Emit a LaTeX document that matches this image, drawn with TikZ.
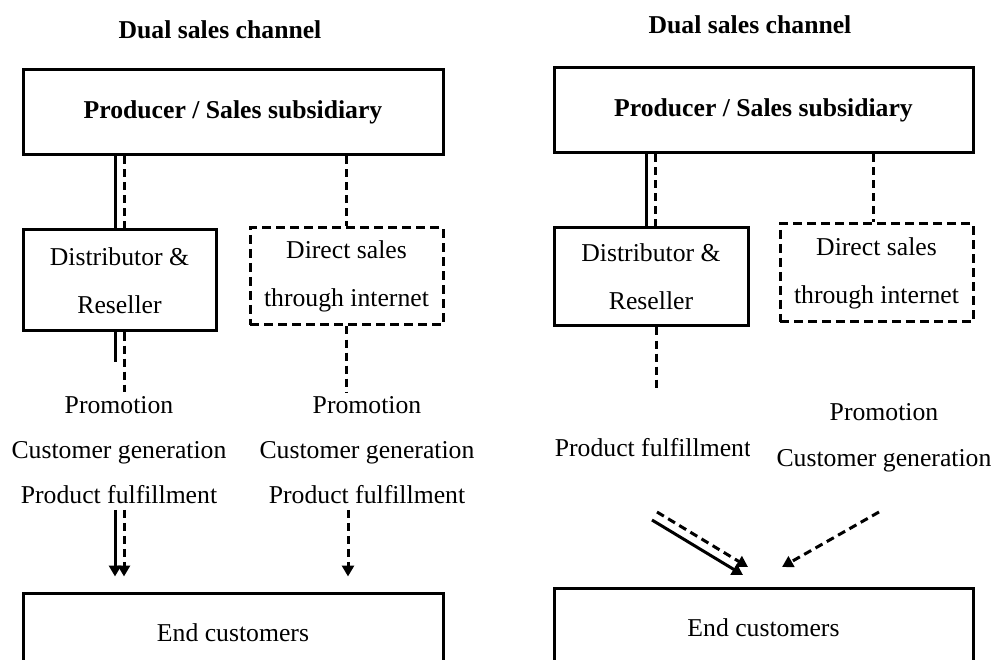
\documentclass[tikz,border=0pt]{standalone}
\usepackage{fontspec}
\setmainfont{Liberation Serif}
\usetikzlibrary{calc,arrows.meta}

\begin{document}
\begin{tikzpicture}[x=1pt,y=-1pt,
    txt/.style={font=\fontsize{25.7}{45}\selectfont,align=center,inner sep=0pt},
    box/.style={draw,line width=3pt,align=center,
      font=\fontsize{25.7}{48}\selectfont},
    dbox/.style={box,dash pattern=on 9pt off 5pt},
    ln/.style={line width=3pt},
    dln/.style={ln,dash pattern=on 8pt off 5pt},
    tip/.style={-{Triangle[length=11pt,width=12pt]}}]
  \clip (0,0) rectangle (996,660);

  % left channel
  \node[txt,font=\fontsize{25.7}{30}\selectfont\bfseries] (titleL) at (220,30) {Dual sales channel};
  \node[box,font=\fontsize{25.7}{30}\selectfont\bfseries,minimum width=420pt,minimum height=85pt]
    (prodL) at (233,112.5) {Producer / Sales subsidiary};
  \node[box,minimum width=193pt,minimum height=101pt] (distL) at (119.5,280.5)
    {Distributor \&\\Reseller};
  \node[dbox,minimum width=193pt,minimum height=97pt] (directL) at (346.5,276.5)
    {Direct sales\\through internet};
  \node[txt] (tasksL) at (119,450) {Promotion\\Customer generation\\Product fulfillment};
  \node[txt] (tasksM) at (367,450) {Promotion\\Customer generation\\Product fulfillment};
  \node[box,minimum width=420pt,minimum height=80pt] (endL) at (233,633) {End customers};

  \draw[ln] ($(prodL.south -| distL.north)+(-4.5,0)$) -- ($(distL.north)+(-4.5,0)$);
  \draw[dln] ($(prodL.south -| distL.north)+(4.5,0)$) -- ($(distL.north)+(4.5,0)$);
  \draw[dln] (prodL.south -| directL.north) -- (directL.north);
  \draw[ln] ($(distL.south)+(-4.5,0)$) -- ++(0,29);
  \draw[dln] ($(distL.south)+(4.5,0)$) -- ($(tasksL.north -| distL.south)+(4.5,-4)$);
  \draw[dln] (directL.south) -- ($(tasksM.north -| directL.south)+(0,-4)$);
  \draw[ln,tip,shorten >=15pt] ($(tasksL.south -| distL.south)+(-4.5,6)$) -- ($(endL.north -| distL.south)+(-4.5,0)$);
  \draw[dln,tip,shorten >=15pt] ($(tasksL.south -| distL.south)+(4.5,6)$) -- ($(endL.north -| distL.south)+(4.5,0)$);
  \draw[dln,tip,shorten >=15pt] ($(tasksM.south -| directL.south)+(1.5,6)$) -- ($(endL.north -| directL.south)+(1.5,0)$);

  % right channel
  \node[txt,font=\fontsize{25.7}{30}\selectfont\bfseries] (titleR) at (750,25) {Dual sales channel};
  \node[box,font=\fontsize{25.7}{30}\selectfont\bfseries,minimum width=419pt,minimum height=85pt]
    (prodR) at (763.5,110.5) {Producer / Sales subsidiary};
  \node[box,minimum width=194pt,minimum height=98pt] (distR) at (651,277)
    {Distributor \&\\Reseller};
  \node[dbox,minimum width=193pt,minimum height=98pt] (directR) at (876.5,273)
    {Direct sales\\through internet};
  \begin{scope}
    \clip (540,420) rectangle (749,480);
    \node[txt] (fulfilR) at (653,448) {Product fulfillment};
  \end{scope}
  \node[txt,font=\fontsize{25.7}{46}\selectfont] (tasksR) at (884,438) {Promotion\\Customer generation};
  \node[box,minimum width=419pt,minimum height=80pt] (endR) at (763.5,628) {End customers};

  \draw[ln] ($(prodR.south -| distR.north)+(-5,0)$) -- ($(distR.north)+(-5,0)$);
  \draw[dln] ($(prodR.south -| distR.north)+(4,0)$) -- ($(distR.north)+(4,0)$);
  \draw[dln] ($(prodR.south -| directR.north)+(-3,0)$) -- ($(directR.north)+(-3,0)$);
  \draw[dln] ($(distR.south)+(5,0)$) -- ++(0,64);

  \coordinate (solA) at (652,520);
  \coordinate (solB) at (743,575);
  \coordinate (dshA) at (657,512);
  \coordinate (dshB) at (748,567);
  \coordinate (webA) at (879,512);
  \coordinate (webB) at (782,567);
  \draw[ln,tip] (solA) -- (solB);
  \draw[dln,tip] (dshA) -- (dshB);
  \draw[dln,tip] (webA) -- (webB);
\end{tikzpicture}
\end{document}
